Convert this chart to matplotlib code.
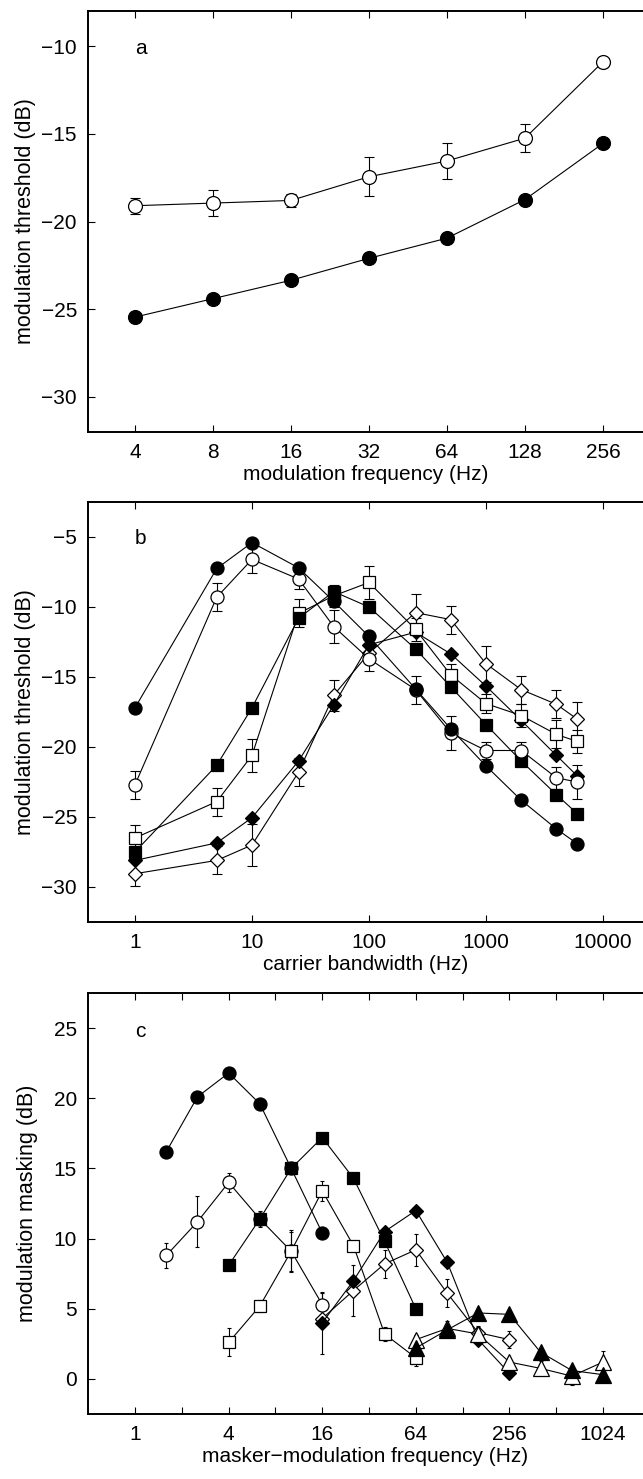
import numpy as np
import matplotlib
matplotlib.use('Agg')
import matplotlib.pyplot as plt
from matplotlib.ticker import NullLocator

plt.rcParams['font.family'] = ['Liberation Sans', 'DejaVu Sans']

# ---- panel a: modulation detection thresholds ----
fm_a = [4, 8, 16, 32, 64, 128, 256]
a_open = [-19.1, -18.95, -18.8, -17.45, -16.55, -15.25, -10.9]
a_open_err = [0.45, 0.75, 0.35, 1.1, 1.0, 0.8, 0.0]
a_filled = [-25.45, -24.4, -23.35, -22.1, -20.95, -18.75, -15.55]

# ---- panel b: thresholds vs carrier bandwidth ----
bw_b = [1, 5, 10, 25, 50, 100, 250, 500, 1000, 2000, 4000, 6000]
b_circ_f = [-17.2, -7.25, -5.4, -7.2, -9.6, -12.1, -15.85, -18.7, -21.35, -23.8, -25.85, -26.9]
b_circ_o = [-22.7, -9.3, -6.6, -8.0, -11.4, -13.7, -15.9, -19.0, -20.25, -20.25, -22.2, -22.5]
b_circ_o_err = [1.0, 1.0, 1.0, 0.7, 1.2, 0.9, 1.0, 1.2, 0.6, 0.6, 0.8, 1.2]
b_sq_f = [-27.5, -21.3, -17.2, -10.8, -8.9, -10.0, -13.0, -15.7, -18.4, -21.0, -23.4, -24.75]
b_sq_o = [-26.5, -23.9, -20.6, -10.45, -9.2, -8.25, -11.6, -14.85, -16.9, -17.75, -19.1, -19.6]
b_sq_o_err = [0.9, 1.0, 1.2, 1.0, 0.8, 1.2, 0.8, 0.8, 0.7, 0.8, 1.0, 0.8]
b_dia_f = [-28.1, -26.85, -25.05, -21.0, -17.0, -12.7, -11.8, -13.35, -15.65, -18.1, -20.6, -22.05]
b_dia_o = [-29.05, -28.1, -27.0, -21.8, -16.3, -13.3, -10.4, -10.9, -14.05, -15.9, -16.95, -18.0]
b_dia_o_err = [0.9, 1.0, 1.5, 1.0, 1.1, 0.6, 1.3, 1.0, 1.3, 1.0, 1.0, 1.2]

# ---- panel c: modulation masking patterns ----
c_x1 = [1.59, 2.52, 4, 6.35, 10.1, 16]
c_circ_f = [16.2, 20.1, 21.8, 19.6, 15.0, 10.4]
c_circ_o = [8.8, 11.2, 14.0, 11.4, 9.1, 5.3]
c_circ_o_err = [0.9, 1.8, 0.7, 0.6, 1.4, 0.8]
c_x2 = [4, 6.35, 10.1, 16, 25.4, 40.3, 64]
c_sq_f = [8.1, 11.4, 15.0, 17.2, 14.3, 9.8, 5.0]
c_sq_o = [2.6, 5.2, 9.1, 13.4, 9.5, 3.2, 1.5]
c_sq_o_err = [1.0, 0.4, 1.5, 0.7, 0.3, 0.5, 0.6]
c_x3 = [16, 25.4, 40.3, 64, 102, 161, 256]
c_dia_f = [4.0, 7.0, 10.5, 12.0, 8.3, 2.8, 0.4]
c_dia_f_err = [2.2, 0.0, 0.0, 0.0, 0.0, 0.0, 0.0]
c_dia_o = [4.3, 6.3, 8.2, 9.2, 6.1, 3.3, 2.8]
c_dia_o_err = [0.6, 1.8, 1.0, 1.15, 1.0, 0.5, 0.6]
c_x4 = [64, 102, 161, 256, 406, 645, 1024]
c_tri_f = [2.2, 3.5, 4.7, 4.6, 1.9, 0.6, 0.3]
c_tri_o = [2.8, 3.6, 3.2, 1.2, 0.75, 0.2, 1.2]
c_tri_o_err = [0.3, 0.5, 0.5, 0.3, 0.5, 0.6, 0.8]

W, H = 643.0, 1479.0
fig = plt.figure(figsize=(W / 100, H / 100), dpi=100)


def make_axes(top, bottom):
    ax = fig.add_axes([88 / W, 1 - bottom / H, 1 - 88 / W, (bottom - top) / H])
    ax.spines['right'].set_visible(False)
    for s in ['left', 'top', 'bottom']:
        ax.spines[s].set_linewidth(1.4)
    ax.tick_params(direction='in', length=5, width=0.8, top=True, right=False,
                   labelsize=15, pad=8)
    return ax


def series(ax, x, y, marker, filled, ms, err=None, capsize=3.5):
    if err is not None:
        ax.errorbar(x, y, yerr=err, fmt='none', ecolor='k', elinewidth=0.8,
                    capsize=capsize, capthick=0.8, zorder=1)
    ax.plot(x, y, '-', color='k', lw=0.8, marker=marker, ms=ms,
            mfc='k' if filled else 'w', mec='k', mew=0.9, zorder=2)


# panel a
ax = make_axes(11, 432)
ax.set_xscale('log', base=2)
series(ax, fm_a, a_open, 'o', False, 10, a_open_err, 3.5)
series(ax, fm_a, a_filled, 'o', True, 10)
ax.set_xlim(2.637, 365.5)
ax.set_ylim(-32, -8)
ax.set_xticks(fm_a)
ax.set_xticklabels([str(v) for v in fm_a])
ax.xaxis.set_minor_locator(NullLocator())
ax.set_yticks([-30, -25, -20, -15, -10])
ax.set_xlabel('modulation frequency (Hz)', fontsize=15, labelpad=2)
ax.set_ylabel('modulation threshold (dB)', fontsize=15.5, labelpad=4)
ax.text(0.085, 0.912, 'a', transform=ax.transAxes, fontsize=15, va='center')

# panel b
ax = make_axes(502, 922)
ax.set_xscale('log')
series(ax, bw_b, b_dia_o, 'D', False, 7.4, b_dia_o_err)
series(ax, bw_b, b_dia_f, 'D', True, 7.4)
series(ax, bw_b, b_sq_o, 's', False, 8, b_sq_o_err)
series(ax, bw_b, b_sq_f, 's', True, 8)
series(ax, bw_b, b_circ_o, 'o', False, 9.4, b_circ_o_err)
series(ax, bw_b, b_circ_f, 'o', True, 9.4)
ax.set_xlim(0.3967, 21980)
ax.set_ylim(-32.5, -2.5)
ax.set_xticks([1, 10, 100, 1000, 10000])
ax.set_xticklabels(['1', '10', '100', '1000', '10000'])
ax.xaxis.set_minor_locator(NullLocator())
ax.set_yticks([-30, -25, -20, -15, -10, -5])
ax.set_xlabel('carrier bandwidth (Hz)', fontsize=15, labelpad=2)
ax.set_ylabel('modulation threshold (dB)', fontsize=15.5, labelpad=4)
ax.text(0.085, 0.914, 'b', transform=ax.transAxes, fontsize=15, va='center')

# panel c
ax = make_axes(993, 1414)
ax.set_xscale('log', base=2)
series(ax, c_x1, c_circ_o, 'o', False, 9.4, c_circ_o_err, 1.5)
series(ax, c_x1, c_circ_f, 'o', True, 9.4)
series(ax, c_x2, c_sq_o, 's', False, 8, c_sq_o_err, 1.5)
series(ax, c_x2, c_sq_f, 's', True, 8)
series(ax, c_x3, c_dia_o, 'D', False, 7.6, c_dia_o_err, 1.5)
series(ax, c_x3, c_dia_f, 'D', True, 7.6, c_dia_f_err, 1.5)
series(ax, c_x4, c_tri_o, '^', False, 11, c_tri_o_err, 1.5)
series(ax, c_x4, c_tri_f, '^', True, 11)
ax.set_xlim(0.498, 1851)
ax.set_ylim(-2.5, 27.5)
c_ticks = [1, 2, 4, 8, 16, 32, 64, 128, 256, 512, 1024]
ax.set_xticks(c_ticks)
ax.set_xticklabels([str(v) if i % 2 == 0 else '' for i, v in enumerate(c_ticks)])
ax.xaxis.set_minor_locator(NullLocator())
ax.set_yticks([0, 5, 10, 15, 20, 25])
ax.set_xlabel('masker\u2212modulation frequency (Hz)', fontsize=15, labelpad=2)
ax.set_ylabel('modulation masking (dB)', fontsize=15.5, labelpad=11)
ax.text(0.085, 0.908, 'c', transform=ax.transAxes, fontsize=15, va='center')

fig.savefig('out.png', dpi=100)
